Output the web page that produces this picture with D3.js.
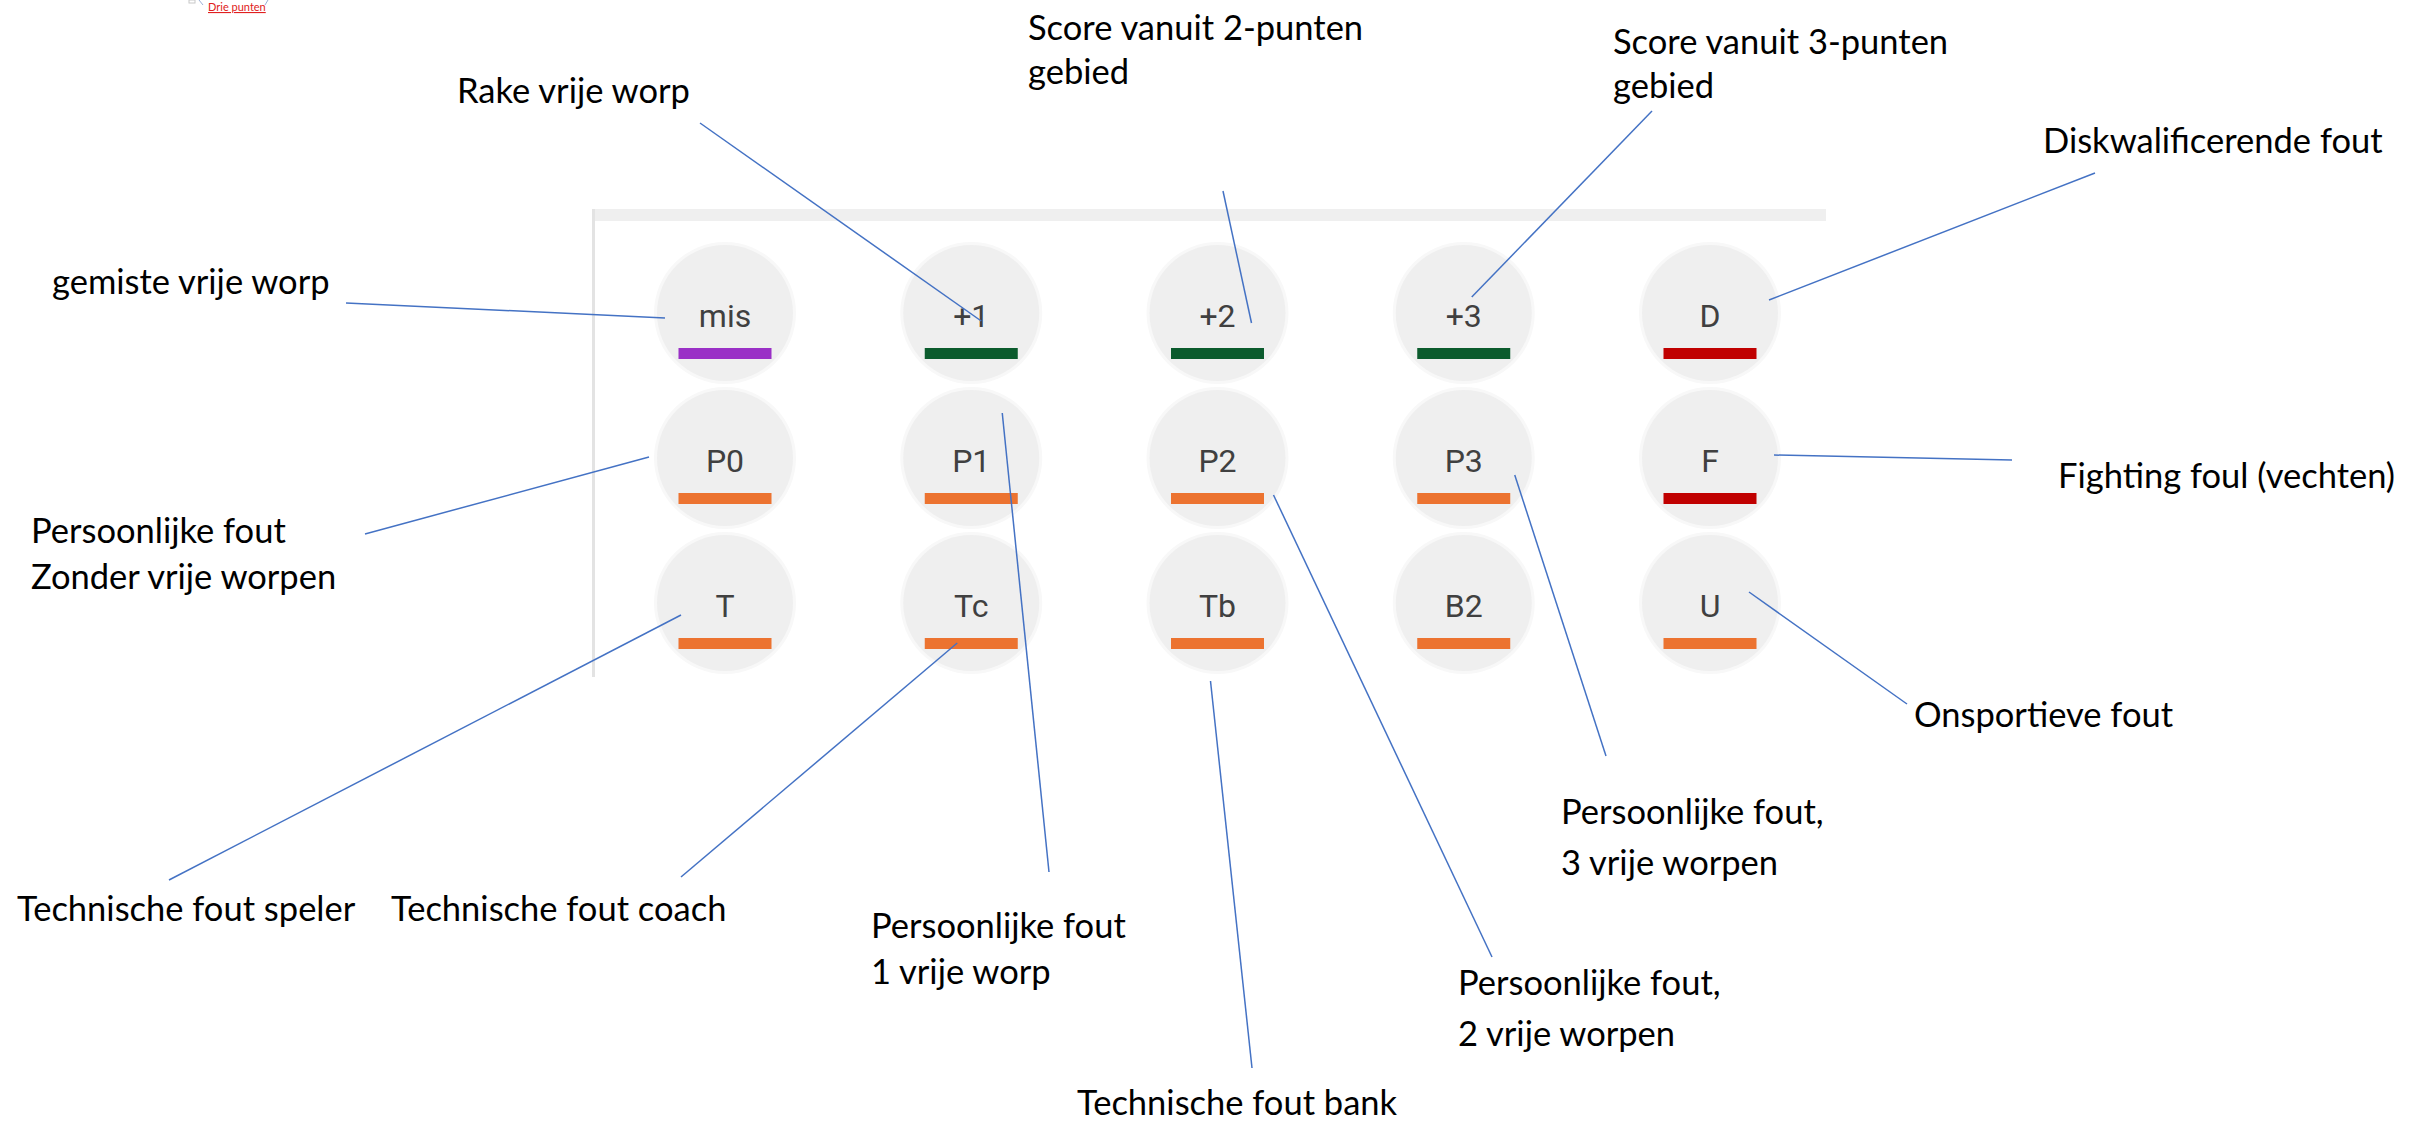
<!DOCTYPE html>
<html>
<head>
<meta charset="utf-8">
<script src="https://cdn.jsdelivr.net/npm/d3@7"></script>
<style>
  html, body { margin: 0; padding: 0; background: #ffffff; }
  svg { display: block; }
</style>
</head>
<body>
<div id="chart"></div>
<script>
// ---------- data ----------
const buttonCodes = ["mis", "+1", "+2", "+3", "D",
                     "P0", "P1", "P2", "P3", "F",
                     "T", "Tc", "Tb", "B2", "U"];
const buttonKinds = ["miss", "score", "score", "score", "eject",
                     "foul", "foul", "foul", "foul", "eject",
                     "foul", "foul", "foul", "foul", "foul"];
const columns = [0, 1, 2, 3, 4];
const rows = [0, 1, 2];

const annotationTargets = ["mis", "+1", "+2", "+3", "D", "F", "U",
                           "P3", "P2", "Tb", "P1", "Tc", "T", "P0"];
const annotationTexts = [
  ["gemiste vrije worp"],
  ["Rake vrije worp"],
  ["Score vanuit 2-punten", "gebied"],
  ["Score vanuit 3-punten", "gebied"],
  ["Diskwalificerende fout"],
  ["Fighting foul (vechten)"],
  ["Onsportieve fout"],
  ["Persoonlijke fout,", "3 vrije worpen"],
  ["Persoonlijke fout,", "2 vrije worpen"],
  ["Technische fout bank"],
  ["Persoonlijke fout", "1 vrije worp"],
  ["Technische fout coach"],
  ["Technische fout speler"],
  ["Persoonlijke fout", "Zonder vrije worpen"]
];
const cornerNote = "Drie punten";

// ---------- layout / style ----------
const W = 2412, H = 1131;
const kindColor = {miss: "#9a30c6", score: "#0b5b2d", eject: "#c00000", foul: "#ec7330"};

// label anchor (x, first baseline, line gap) and leader line start, end offset from button center
const labelLayout = [
  {x: 52,   y: 294, gap: 0,  from: [346, 303],  off: [-60, 5]},
  {x: 457,  y: 103, gap: 0,  from: [700, 123],  off: [10, 8]},
  {x: 1028, y: 40,  gap: 44, from: [1223, 191], off: [34, 10]},
  {x: 1613, y: 54,  gap: 44, from: [1652, 111], off: [8, -16]},
  {x: 2043, y: 153, gap: 0,  from: [2095, 173], off: [59, -13]},
  {x: 2058, y: 488, gap: 0,  from: [2012, 460], off: [64, -3]},
  {x: 1914, y: 727, gap: 0,  from: [1907, 704], off: [39, -11]},
  {x: 1561, y: 824, gap: 51, from: [1606, 756], off: [51, 17]},
  {x: 1458, y: 995, gap: 51, from: [1492, 957], off: [56, 37]},
  {x: 1077, y: 1115, gap: 0, from: [1252, 1068], off: [-7, 78]},
  {x: 871,  y: 938, gap: 46, from: [1049, 872], off: [31, -45]},
  {x: 391,  y: 921, gap: 0,  from: [681, 877],  off: [-14, 40]},
  {x: 17,   y: 921, gap: 0,  from: [169, 880],  off: [-44, 12]},
  {x: 31,   y: 543, gap: 46, from: [365, 534],  off: [-76, -1]}
];

const svg = d3.select("#chart").append("svg")
  .attr("width", W).attr("height", H)
  .attr("viewBox", `0 0 ${W} ${H}`);

svg.append("rect").attr("width", W).attr("height", H).attr("fill", "#ffffff");

// scales
const x = d3.scalePoint().domain(columns).range([725, 1710]);
const y = d3.scalePoint().domain(rows).range([313, 603]);

const buttons = buttonCodes.map((c, i) => ({
  code: c, kind: buttonKinds[i], col: i % 5, row: Math.floor(i / 5)
}));
const byCode = new Map(buttons.map(b => [b.code, b]));

// panel frame
const panel = svg.append("g");
panel.append("rect").attr("x", 592).attr("y", 209).attr("width", 1234).attr("height", 12)
  .attr("fill", "#efefef");
panel.append("rect").attr("x", 592).attr("y", 209).attr("width", 3).attr("height", 468)
  .attr("fill", "#e3e3e3");

// buttons
const g = svg.append("g").selectAll("g.btn").data(buttons).join("g")
  .attr("class", "btn")
  .attr("transform", d => `translate(${x(d.col)},${y(d.row)})`);

g.append("circle").attr("r", 71).attr("fill", "#f8f8f8");
g.append("circle").attr("r", 68).attr("fill", "#efefef");
g.append("text")
  .attr("text-anchor", "middle")
  .attr("y", 14)
  .attr("font-family", "Roboto, 'Noto Sans', sans-serif")
  .attr("font-size", 32)
  .attr("fill", "#404040")
  .text(d => d.code);
g.append("rect")
  .attr("x", -46.5).attr("y", 35).attr("width", 93).attr("height", 11)
  .attr("fill", d => kindColor[d.kind]);

// annotations
const ann = annotationTargets.map((t, i) => ({target: byCode.get(t), lines: annotationTexts[i], L: labelLayout[i]}));

svg.append("g").selectAll("line").data(ann).join("line")
  .attr("x1", d => d.L.from[0]).attr("y1", d => d.L.from[1])
  .attr("x2", d => x(d.target.col) + d.L.off[0])
  .attr("y2", d => y(d.target.row) + d.L.off[1])
  .attr("stroke", "#4472c4").attr("stroke-width", 1.5);

const tg = svg.append("g").selectAll("text").data(ann).join("text")
  .attr("font-family", "Lato, 'Open Sans', sans-serif")
  .attr("font-size", 34.5)
  .attr("fill", "#000000");
tg.selectAll("tspan").data(d => d.lines.map((s, k) => ({s, k, L: d.L}))).join("tspan")
  .attr("x", d => d.L.x)
  .attr("y", d => d.L.y + d.k * d.L.gap)
  .text(d => d.s);

// corner remnant
svg.append("rect").attr("x", 189).attr("y", 0).attr("width", 6).attr("height", 3)
  .attr("fill", "none").attr("stroke", "#c8c8c8").attr("stroke-width", 1);
svg.append("text").attr("x", 208).attr("y", 11)
  .attr("font-family", "Lato, sans-serif").attr("font-size", 11)
  .attr("fill", "#e02020").attr("text-decoration", "underline")
  .text(cornerNote);
svg.append("line").attr("x1", 199).attr("y1", 0).attr("x2", 203).attr("y2", 5)
  .attr("stroke", "#9ab0d8").attr("stroke-width", 1);
svg.append("line").attr("x1", 268).attr("y1", 0).attr("x2", 265).attr("y2", 5)
  .attr("stroke", "#9ab0d8").attr("stroke-width", 1);
</script>
</body>
</html>
